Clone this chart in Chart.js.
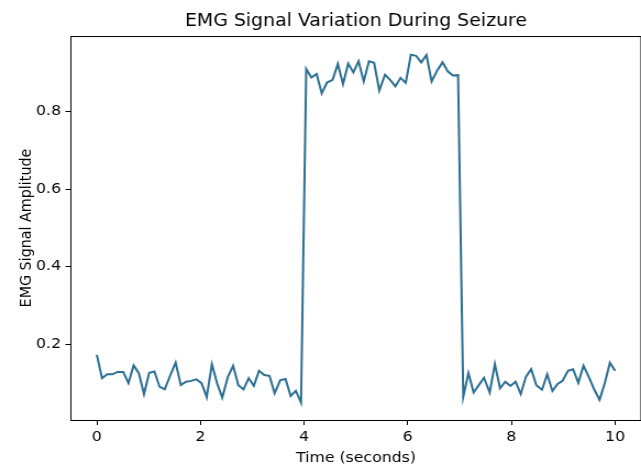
<!DOCTYPE html>
<html>
<head>
<meta charset="utf-8">
<script src="https://cdn.jsdelivr.net/npm/chart.js@4.4.0/dist/chart.umd.min.js"></script>
<style>
  html, body { margin: 0; padding: 0; background: #fff; overflow: hidden; }
  #wrap { width: 641px; height: 464px; overflow: hidden; }
  /* the reference is slightly stretched sideways, so is this */
  #chart { transform: scaleX(1.0995); transform-origin: 0 0; }
</style>
</head>
<body>
<div id="wrap"><canvas id="chart" width="583" height="464"></canvas></div>
<script>
// Data
const timeSeconds = [
  0.00, 0.10, 0.20, 0.30, 0.40, 0.51, 0.61, 0.71, 0.81, 0.91,
  1.01, 1.11, 1.21, 1.31, 1.41, 1.52, 1.62, 1.72, 1.82, 1.92,
  2.02, 2.12, 2.22, 2.32, 2.42, 2.53, 2.63, 2.73, 2.83, 2.93,
  3.03, 3.13, 3.23, 3.33, 3.43, 3.54, 3.64, 3.74, 3.84, 3.94,
  4.04, 4.14, 4.24, 4.34, 4.44, 4.55, 4.65, 4.75, 4.85, 4.95,
  5.05, 5.15, 5.25, 5.35, 5.45, 5.56, 5.66, 5.76, 5.86, 5.96,
  6.06, 6.16, 6.26, 6.36, 6.46, 6.57, 6.67, 6.77, 6.87, 6.97,
  7.07, 7.17, 7.27, 7.37, 7.47, 7.58, 7.68, 7.78, 7.88, 7.98,
  8.08, 8.18, 8.28, 8.38, 8.48, 8.59, 8.69, 8.79, 8.89, 8.99,
  9.09, 9.19, 9.29, 9.39, 9.49, 9.60, 9.70, 9.80, 9.90, 10.00
];
const emgBefore = [
  0.172, 0.112, 0.122, 0.122, 0.128, 0.128, 0.099, 0.145, 0.125, 0.071,
  0.126, 0.129, 0.090, 0.083, 0.117, 0.152, 0.094, 0.103, 0.105, 0.109,
  0.099, 0.063, 0.148, 0.099, 0.062, 0.116, 0.144, 0.094, 0.083, 0.112,
  0.092, 0.131, 0.120, 0.118, 0.073, 0.107, 0.110, 0.066, 0.079, 0.049
];
const emgSeizure = [
  0.910, 0.888, 0.897, 0.847, 0.875, 0.882, 0.923, 0.871, 0.924, 0.901,
  0.930, 0.878, 0.930, 0.926, 0.854, 0.895, 0.882, 0.865, 0.887, 0.874,
  0.947, 0.944, 0.927, 0.946, 0.878, 0.907, 0.927, 0.904, 0.893, 0.894
];
const emgAfter = [
  0.064, 0.125, 0.075, 0.094, 0.113, 0.075, 0.148, 0.086, 0.103, 0.092,
  0.103, 0.071, 0.116, 0.135, 0.094, 0.082, 0.122, 0.079, 0.097, 0.106,
  0.131, 0.135, 0.100, 0.144, 0.116, 0.082, 0.056, 0.099, 0.152, 0.131
];
const xTicks = [0, 2, 4, 6, 8, 10];
const yTicks = [0.2, 0.4, 0.6, 0.8];

const emgAll = emgBefore.concat(emgSeizure, emgAfter);
const points = timeSeconds.map((t, i) => ({ x: t, y: emgAll[i] }));

const FONT = 'DejaVu Sans';
const LINE_COLOR = '#2c6f92';
const LABEL_SIZE = 14.3;

// draws the full axes frame like matplotlib spines
const frame = {
  id: 'frame',
  afterDraw(chart) {
    const { ctx, chartArea: a } = chart;
    ctx.save();
    ctx.strokeStyle = '#000';
    ctx.lineWidth = 1;
    ctx.strokeRect(a.left, a.top + 0.5, a.right - a.left, a.bottom - a.top);
    ctx.restore();
  }
};

new Chart(document.getElementById('chart').getContext('2d'), {
  type: 'line',
  data: {
    datasets: [{
      data: points,
      borderColor: LINE_COLOR,
      borderWidth: 2,
      pointRadius: 0,
      tension: 0,
      fill: false
    }]
  },
  options: {
    responsive: false,
    animation: false,
    devicePixelRatio: 1,
    layout: { padding: 0 },
    plugins: {
      legend: { display: false },
      tooltip: { enabled: false },
      title: {
        display: true,
        fullSize: false,
        text: 'EMG Signal Variation During Seizure',
        color: '#000',
        font: { family: FONT, size: 17.2, weight: 'normal' },
        padding: { top: 11, bottom: 4.4 }
      }
    },
    scales: {
      x: {
        type: 'linear',
        min: -0.5,
        max: 10.5,
        afterBuildTicks: s => { s.ticks = xTicks.map(v => ({ value: v })); },
        afterFit: s => { s.height = 44; },
        grid: { drawOnChartArea: false, drawTicks: true, tickLength: 5, color: '#000' },
        border: { display: true, color: '#000', width: 1 },
        ticks: {
          color: '#000', padding: 4, maxRotation: 0, autoSkip: false,
          font: { family: FONT, size: LABEL_SIZE },
          callback: v => String(v)
        },
        title: {
          display: true, text: 'Time (seconds)', color: '#000',
          font: { family: FONT, size: LABEL_SIZE },
          padding: { top: 0, bottom: -3 }
        }
      },
      y: {
        type: 'linear',
        min: 0.004,
        max: 0.995,
        afterBuildTicks: s => { s.ticks = yTicks.map(v => ({ value: v })); },
        afterFit: s => { s.width = 64.5; },
        grid: { drawOnChartArea: false, drawTicks: true, tickLength: 5, color: '#000' },
        border: { display: true, color: '#000', width: 1 },
        ticks: {
          color: '#000', padding: 4, autoSkip: false,
          font: { family: FONT, size: LABEL_SIZE },
          callback: v => v.toFixed(1)
        },
        title: {
          display: true, text: 'EMG Signal Amplitude', color: '#000',
          font: { family: FONT, size: LABEL_SIZE },
          padding: { top: 16, bottom: 0 }
        }
      }
    }
  },
  plugins: [frame]
});
</script>
</body>
</html>
